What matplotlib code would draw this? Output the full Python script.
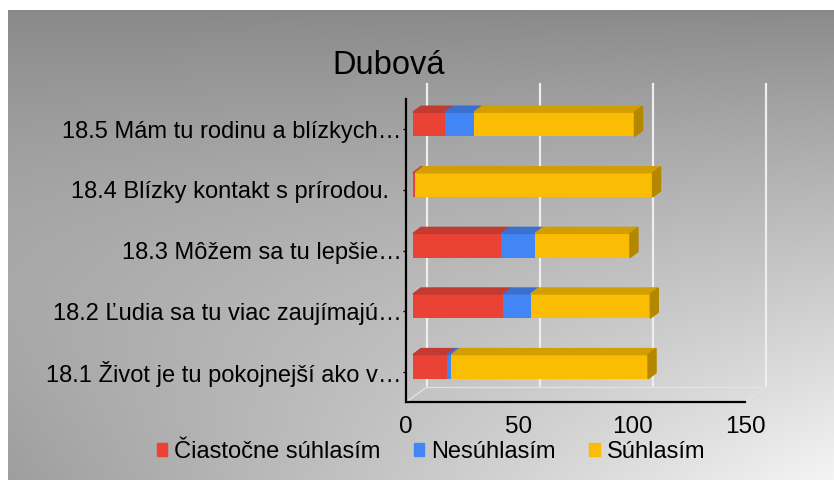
import matplotlib.pyplot as plt
import matplotlib.transforms as mtransforms
from matplotlib.patches import Polygon, Patch
import numpy as np

plt.rcParams['font.family'] = ['Liberation Sans', 'DejaVu Sans']

title = 'Dubová'
categories = [
    '18.1 Život je tu pokojnejší ako v…',
    '18.2 Ľudia sa tu viac zaujímajú…',
    '18.3 Môžem sa tu lepšie…',
    '18.4 Blízky kontakt s prírodou.  ',
    '18.5 Mám tu rodinu a blízkych…',
]
ciastocne = [15, 40, 39, 1, 14]
nesuhlasim = [2, 12, 15, 0, 13]
suhlasim = [87, 53, 42, 105, 71]
series_names = ['Čiastočne súhlasím', 'Nesúhlasím', 'Súhlasím']
x_ticks = [0, 50, 100, 150]

face_col = ['#EA4335', '#4285F4', '#FBBC04']
top_col = ['#C23A30', '#3B70D0', '#D39E00']
side_col = ['#A8322A', '#335FB0', '#B38700']

W, H = 834, 480
fig = plt.figure(figsize=(W / 100, H / 100), dpi=100)

# gray gradient background with a thin white margin at top/left
yy, xx = np.mgrid[0:H, 0:W]
u = xx / W
v = yy / H
s = np.clip(v ** 0.9 * (0.2 + 0.8 * u) + 0.18 * np.sin(np.pi * v) * (1 - u), 0, 1)
b = 0.53 + 0.43 * s
b[:10, :] = 1.0
b[:, :8] = 1.0
img = np.dstack([b, b, b])
bg = fig.add_axes([0, 0, 1, 1], zorder=-10)
bg.imshow(img, aspect='auto', interpolation='bilinear')
bg.axis('off')

# front plane of the 3d box
ax = fig.add_axes([406 / W, (H - 402) / H, 339 / W, 303 / H])
ax.set_xlim(0, 150)
ax.set_ylim(-0.5, 4.5)
ax.patch.set_visible(False)
for sp in ax.spines.values():
    sp.set_visible(False)

ppu_x = 339 / 150
ppu_y = 303 / 5


def shifted(dx, dy):
    return ax.transData + mtransforms.ScaledTranslation(dx / 100, dy / 100, fig.dpi_scale_trans)


back_tr = shifted(21, 15)
bar_tr = shifted(7, 5)

# back wall gridlines + floor edges
for xv in x_ticks:
    ax.plot([xv, xv], [-0.5, 4.5], color='#eeeeee', lw=1.6, transform=back_tr,
            clip_on=False, zorder=1)
ax.plot([0, 150], [-0.5, -0.5], color='#e2e2e2', lw=1.0, transform=back_tr,
        clip_on=False, zorder=1)
for xv in [0, 150]:
    ax.plot([xv, xv + 21 / ppu_x], [-0.5, -0.5 + 15 / ppu_y], color='#e2e2e2',
            lw=1.0, clip_on=False, zorder=1)

# stacked 3d bars
bh = 0.4
ddx = 8 / ppu_x
ddy = 6 / ppu_y
series = [ciastocne, nesuhlasim, suhlasim]
for i in range(len(categories)):
    left = 0
    last = None
    for k, vals in enumerate(series):
        w = vals[i]
        if w <= 0:
            continue
        r = left + w
        ax.barh(i, w, left=left, height=bh, color=face_col[k], transform=bar_tr,
                zorder=3)
        ax.add_patch(Polygon([(left, i + bh / 2), (r, i + bh / 2),
                              (r + ddx, i + bh / 2 + ddy), (left + ddx, i + bh / 2 + ddy)],
                             closed=True, color=top_col[k], transform=bar_tr,
                             zorder=3, clip_on=False))
        last = (r, k)
        left = r
    r, k = last
    ax.add_patch(Polygon([(r, i - bh / 2), (r, i + bh / 2),
                          (r + ddx, i + bh / 2 + ddy), (r + ddx, i - bh / 2 + ddy)],
                         closed=True, color=side_col[k], transform=bar_tr,
                         zorder=4, clip_on=False))

# front axis lines
ax.plot([0, 0], [-0.5, 4.5], color='black', lw=1.6, clip_on=False, zorder=5)
ax.plot([0, 150], [-0.5, -0.5], color='black', lw=1.6, clip_on=False, zorder=5)

ax.set_yticks(range(len(categories)), categories, fontsize=17)
ax.tick_params(axis='y', length=2, width=1, pad=1, colors='black')
ax.set_xticks(x_ticks)
ax.tick_params(axis='x', length=0, pad=10, labelsize=17.5)

fig.text(389 / W, 1 - 74 / H, title, ha='center', va='baseline', fontsize=23.5)

handles = [Patch(color=c, label=n) for c, n in zip(face_col, series_names)]
fig.legend(handles=handles, loc='center', bbox_to_anchor=(431 / W, 1 - 452 / H),
           ncol=3, frameon=False, handlelength=0.45, handleheight=0.45,
           handletextpad=0.3, columnspacing=1.4, fontsize=17, borderpad=0)

fig.savefig('out.png', dpi=100)
